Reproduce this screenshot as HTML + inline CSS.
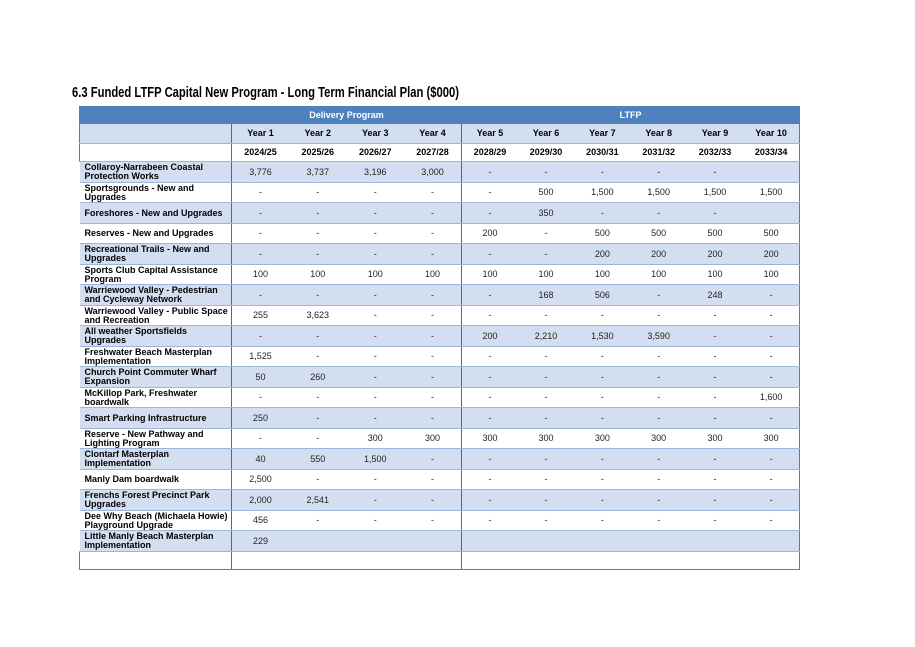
<!DOCTYPE html>
<html><head><meta charset="utf-8"><style>
body{margin:0;width:915px;height:647px;background:#fff;position:relative;font-family:"Liberation Sans",Arial,sans-serif;}
svg.t{position:absolute;left:0;top:0;}
table{position:absolute;left:79px;top:106px;border-collapse:collapse;table-layout:fixed;width:720px;font-size:9px;line-height:9px;}
td{padding:0;text-align:center;vertical-align:middle;height:19px;border-top:1px solid #9db5d9;border-bottom:1px solid #9db5d9;color:#222;overflow:hidden;}
td.l{text-align:left;padding-left:5px;font-weight:bold;line-height:9px;color:#000;}
tr.b td{background:#d3dff0;height:20px;}
tr.h td{background:#4f81bd;color:#fff;font-weight:bold;height:16px;border-color:#4f81bd;}
tr.y td{font-weight:bold;color:#000;height:19px;}
tr.y2 td{height:17px;}
.v{border-left:1px solid #666;}
.o{border-right:1px solid #777;}
tr.last td{border-bottom:1px solid #777;height:17px;}
</style></head><body>
<svg class="t" width="915" height="110"><text x="72" y="97" font-family="Liberation Sans, sans-serif" font-weight="bold" font-size="14.5" textLength="387" lengthAdjust="spacingAndGlyphs">6.3 Funded LTFP Capital New Program - Long Term Financial Plan ($000)</text></svg>
<table>
<colgroup><col style="width:152px"><col span="4" style="width:57.5px"><col span="6" style="width:56.33px"></colgroup>
<tr class="h"><td style="border-left:1px solid #777"></td><td class="v" colspan="4">Delivery Program</td><td class="v o" colspan="6">LTFP</td></tr>
<tr class="b y"><td style="border-left:1px solid #777"></td><td class="v">Year 1</td><td>Year 2</td><td>Year 3</td><td>Year 4</td><td class="v">Year 5</td><td>Year 6</td><td>Year 7</td><td>Year 8</td><td>Year 9</td><td class="o">Year 10</td></tr>
<tr class="y y2"><td style="border-left:1px solid #777"></td><td class="v">2024/25</td><td>2025/26</td><td>2026/27</td><td>2027/28</td><td class="v">2028/29</td><td>2029/30</td><td>2030/31</td><td>2031/32</td><td>2032/33</td><td class="o">2033/34</td></tr>
<tr class="b"><td class="l">Collaroy-Narrabeen Coastal Protection Works</td><td class="v">3,776</td><td>3,737</td><td>3,196</td><td>3,000</td><td class="v">-</td><td>-</td><td>-</td><td>-</td><td>-</td><td class="o"></td></tr>
<tr><td class="l">Sportsgrounds - New and Upgrades</td><td class="v">-</td><td>-</td><td>-</td><td>-</td><td class="v">-</td><td>500</td><td>1,500</td><td>1,500</td><td>1,500</td><td class="o">1,500</td></tr>
<tr class="b"><td class="l">Foreshores - New and Upgrades</td><td class="v">-</td><td>-</td><td>-</td><td>-</td><td class="v">-</td><td>350</td><td>-</td><td>-</td><td>-</td><td class="o"></td></tr>
<tr><td class="l">Reserves - New and Upgrades</td><td class="v">-</td><td>-</td><td>-</td><td>-</td><td class="v">200</td><td>-</td><td>500</td><td>500</td><td>500</td><td class="o">500</td></tr>
<tr class="b"><td class="l">Recreational Trails - New and Upgrades</td><td class="v">-</td><td>-</td><td>-</td><td>-</td><td class="v">-</td><td>-</td><td>200</td><td>200</td><td>200</td><td class="o">200</td></tr>
<tr><td class="l">Sports Club Capital Assistance Program</td><td class="v">100</td><td>100</td><td>100</td><td>100</td><td class="v">100</td><td>100</td><td>100</td><td>100</td><td>100</td><td class="o">100</td></tr>
<tr class="b"><td class="l">Warriewood Valley - Pedestrian and Cycleway Network</td><td class="v">-</td><td>-</td><td>-</td><td>-</td><td class="v">-</td><td>168</td><td>506</td><td>-</td><td>248</td><td class="o">-</td></tr>
<tr><td class="l">Warriewood Valley - Public Space and Recreation</td><td class="v">255</td><td>3,623</td><td>-</td><td>-</td><td class="v">-</td><td>-</td><td>-</td><td>-</td><td>-</td><td class="o">-</td></tr>
<tr class="b"><td class="l">All weather Sportsfields Upgrades</td><td class="v">-</td><td>-</td><td>-</td><td>-</td><td class="v">200</td><td>2,210</td><td>1,530</td><td>3,590</td><td>-</td><td class="o">-</td></tr>
<tr><td class="l">Freshwater Beach Masterplan Implementation</td><td class="v">1,525</td><td>-</td><td>-</td><td>-</td><td class="v">-</td><td>-</td><td>-</td><td>-</td><td>-</td><td class="o">-</td></tr>
<tr class="b"><td class="l">Church Point Commuter Wharf Expansion</td><td class="v">50</td><td>260</td><td>-</td><td>-</td><td class="v">-</td><td>-</td><td>-</td><td>-</td><td>-</td><td class="o">-</td></tr>
<tr><td class="l">McKillop Park, Freshwater boardwalk</td><td class="v">-</td><td>-</td><td>-</td><td>-</td><td class="v">-</td><td>-</td><td>-</td><td>-</td><td>-</td><td class="o">1,600</td></tr>
<tr class="b"><td class="l">Smart Parking Infrastructure</td><td class="v">250</td><td>-</td><td>-</td><td>-</td><td class="v">-</td><td>-</td><td>-</td><td>-</td><td>-</td><td class="o">-</td></tr>
<tr><td class="l">Reserve - New Pathway and Lighting Program</td><td class="v">-</td><td>-</td><td>300</td><td>300</td><td class="v">300</td><td>300</td><td>300</td><td>300</td><td>300</td><td class="o">300</td></tr>
<tr class="b"><td class="l">Clontarf Masterplan Implementation</td><td class="v">40</td><td>550</td><td>1,500</td><td>-</td><td class="v">-</td><td>-</td><td>-</td><td>-</td><td>-</td><td class="o">-</td></tr>
<tr><td class="l">Manly Dam boardwalk</td><td class="v">2,500</td><td>-</td><td>-</td><td>-</td><td class="v">-</td><td>-</td><td>-</td><td>-</td><td>-</td><td class="o">-</td></tr>
<tr class="b"><td class="l">Frenchs Forest Precinct Park Upgrades</td><td class="v">2,000</td><td>2,541</td><td>-</td><td>-</td><td class="v">-</td><td>-</td><td>-</td><td>-</td><td>-</td><td class="o">-</td></tr>
<tr><td class="l">Dee Why Beach (Michaela Howie) Playground Upgrade</td><td class="v">456</td><td>-</td><td>-</td><td>-</td><td class="v">-</td><td>-</td><td>-</td><td>-</td><td>-</td><td class="o">-</td></tr>
<tr class="b"><td class="l">Little Manly Beach Masterplan Implementation</td><td class="v">229</td><td></td><td></td><td></td><td class="v"></td><td></td><td></td><td></td><td></td><td class="o"></td></tr>
<tr class="last"><td style="border-left:1px solid #777"></td><td class="v"></td><td></td><td></td><td></td><td class="v"></td><td></td><td></td><td></td><td></td><td class="o"></td></tr>
</table>
</body></html>
